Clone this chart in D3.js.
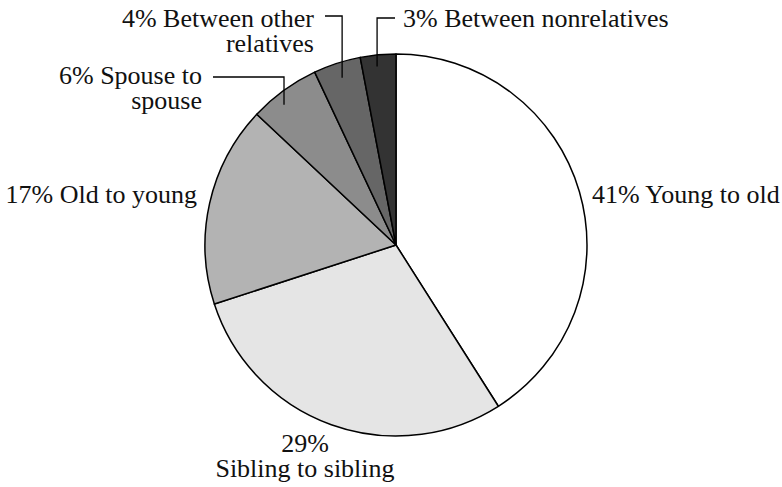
<!DOCTYPE html>
<html>
<head>
<meta charset="utf-8">
<script src="https://cdn.jsdelivr.net/npm/d3@7"></script>
<style>
  html, body { margin: 0; padding: 0; background: #fff; }
</style>
</head>
<body>
<svg id="chart" width="782" height="487"></svg>
<script>
// ---- data ----
const categories = ["Young to old", "Sibling to sibling", "Old to young", "Spouse to spouse", "Between other relatives", "Between nonrelatives"];
const values = [41, 29, 17, 6, 4, 3];
const labelLines = [
  ["41% Young to old"],
  ["29%", "Sibling to sibling"],
  ["17% Old to young"],
  ["6% Spouse to", "spouse"],
  ["4% Between other", "relatives"],
  ["3% Between nonrelatives"]
];
const fills = ["#ffffff", "#e5e5e5", "#b3b3b3", "#8c8c8c", "#666666", "#333333"];

// ---- layout (positions of annotations) ----
const cx = 396, cy = 245, R = 191;
const fontFamily = "'Liberation Serif', 'Times New Roman', Tinos, serif";
const fontSize = 26;
const labelLayout = [
  { x: 592, y: 203, anchor: "start" },
  { x: 305, y: 452, anchor: "middle" },
  { x: 197, y: 203, anchor: "end" },
  { x: 202, y: 84, anchor: "end", leader: { x0: 213, y0: 77, f: 0.38, k: 0.94 } },
  { x: 314, y: 27, anchor: "end", leader: { x0: 325, y0: 16, f: 0.51, k: 0.92 } },
  { x: 403, y: 27, anchor: "start", leader: { x0: 395, y0: 18, f: 0.44, k: 0.94 } }
];
const lineH = 25;

const svg = d3.select("#chart");
const g = svg.append("g").attr("transform", `translate(${cx},${cy})`);

const pie = d3.pie().sort(null).value(d => d.value).startAngle(0).endAngle(2 * Math.PI);
const arcs = pie(values.map((v, i) => ({ value: v, cat: categories[i], i })));
const arc = d3.arc().innerRadius(0).outerRadius(R);

g.selectAll("path.slice")
  .data(arcs)
  .join("path")
  .attr("class", "slice")
  .attr("d", arc)
  .attr("fill", d => fills[d.data.i])
  .attr("stroke", "#000")
  .attr("stroke-width", 1.5)
  .attr("stroke-linejoin", "round");

// leader lines
arcs.forEach((a, i) => {
  const L = labelLayout[i].leader;
  if (!L) return;
  const ang = a.startAngle + L.f * (a.endAngle - a.startAngle);
  const ex = cx + Math.sin(ang) * R * L.k;
  const ey = cy - Math.cos(ang) * R * L.k;
  svg.append("path")
    .attr("d", `M${L.x0},${L.y0}H${ex}V${ey}`)
    .attr("fill", "none")
    .attr("stroke", "#000")
    .attr("stroke-width", 1.3);
});

// labels
labelLines.forEach((lines, i) => {
  const lay = labelLayout[i];
  const t = svg.append("text")
    .attr("x", lay.x)
    .attr("y", lay.y)
    .attr("text-anchor", lay.anchor)
    .attr("font-family", fontFamily)
    .attr("font-size", fontSize)
    .attr("fill", "#111");
  lines.forEach((ln, j) => {
    t.append("tspan")
      .attr("x", lay.x)
      .attr("y", lay.y + j * lineH)
      .text(ln);
  });
});
</script>
</body>
</html>
